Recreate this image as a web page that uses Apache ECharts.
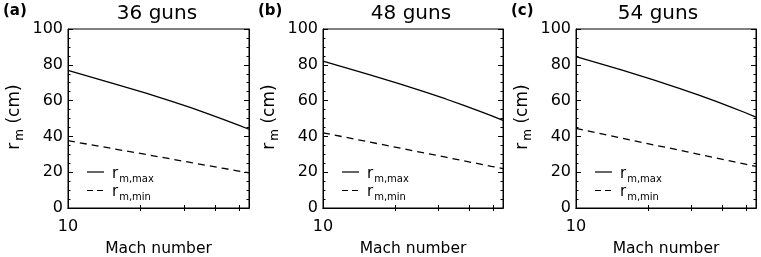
<!DOCTYPE html>
<html><head><meta charset="utf-8">
<script src="https://cdn.jsdelivr.net/npm/echarts@6/dist/echarts.min.js"></script>
<style>html,body{margin:0;padding:0;background:#fff}#c{width:761px;height:257px}</style>
</head><body><div id="c"></div>
<script>
const mach = [10, 15, 20, 25, 30, 35, 40, 45, 50];
const panelLetters = ['(a)', '(b)', '(c)'];
const panelTitles = ['36 guns', '48 guns', '54 guns'];
const rMax36 = [76.9, 69.5, 64.2, 59.7, 55.9, 52.5, 49.4, 46.6, 44.0];
const rMin36 = [37.6, 33.1, 29.9, 27.4, 25.3, 23.6, 22.1, 20.8, 19.6];
const rMax48 = [82.0, 74.6, 69.2, 64.7, 60.9, 57.5, 54.4, 51.6, 49.0];
const rMin48 = [42.0, 37.0, 33.4, 30.6, 28.4, 26.4, 24.8, 23.3, 22.0];
const rMax54 = [84.5, 77.1, 71.6, 67.0, 63.1, 59.6, 56.4, 53.5, 50.8];
const rMin54 = [44.5, 39.1, 35.3, 32.4, 30.0, 27.9, 26.2, 24.6, 23.2];
const yTicks = [0, 20, 40, 60, 80, 100];
const xTickLabels = ['10'];
const legendNames = ['m,max', 'm,min'];

const chart = echarts.init(document.getElementById('c'));
const grids = [
  {left: 68, width: 181, top: 29, height: 179},
  {left: 323, width: 180, top: 29, height: 179},
  {left: 576, width: 180, top: 29, height: 179}
];
const titleX = [157, 411, 658];
const seriesData = [[rMax36, rMin36], [rMax48, rMin48], [rMax54, rMin54]];
const font = '"DejaVu Sans", Verdana, sans-serif';
const opt = {
  animation: false,
  backgroundColor: '#fff',
  grid: grids.map(g => Object.assign({containLabel: false, outerBoundsMode: 'none', show: true, borderColor: '#000', borderWidth: 1}, g)),
  xAxis: [], yAxis: [], series: [], graphic: []
};
grids.forEach((g, i) => {
  ['bottom', 'top'].forEach(pos => {
    opt.xAxis.push({
      type: 'log', gridIndex: i, min: 10, max: 50, logBase: 10, position: pos,
      axisLine: {show: true, lineStyle: {color: '#000', width: 1}},
      axisTick: {show: false},
      minorTick: {show: true, splitNumber: 10, length: 3, lineStyle: {color: '#000'}},
      axisLabel: {show: pos === 'bottom', color: '#000', fontSize: 16, fontFamily: font, margin: 11,
        formatter: v => xTickLabels.indexOf(String(Math.round(v))) >= 0 ? String(Math.round(v)) : ''},
      splitLine: {show: false},
      name: pos === 'bottom' ? 'Mach number' : '', nameLocation: 'middle', nameGap: 33,
      nameTextStyle: {color: '#000', fontSize: 15.5, fontFamily: font}
    });
  });
  ['left', 'right'].forEach(pos => {
    opt.yAxis.push({
      type: 'value', gridIndex: i, min: yTicks[0], max: yTicks[yTicks.length - 1], interval: 20, position: pos,
      axisLine: {show: true, lineStyle: {color: '#000', width: 1}},
      axisTick: {show: true, inside: true, length: 5, lineStyle: {color: '#000'}},
      minorTick: {show: true, splitNumber: 4, length: 2.5, lineStyle: {color: '#000'}},
      axisLabel: {show: pos === 'left', color: '#000', fontSize: 16, fontFamily: font, margin: 5},
      splitLine: {show: false}
    });
  });
  const [mx, mn] = seriesData[i];
  opt.series.push({
    type: 'line', xAxisIndex: i * 2, yAxisIndex: i * 2, showSymbol: false,
    data: mach.map((m, k) => [m, mx[k]]), lineStyle: {color: '#000', width: 1.3}
  });
  opt.series.push({
    type: 'line', xAxisIndex: i * 2, yAxisIndex: i * 2, showSymbol: false,
    data: mach.map((m, k) => [m, mn[k]]), lineStyle: {color: '#000', width: 1.3, type: [7, 5]}
  });
  opt.graphic.push({type: 'text', x: titleX[i], y: 14,
    style: {text: panelTitles[i], align: 'center', verticalAlign: 'middle', font: '20px ' + font, fill: '#000'}});
  const lx = [3, 258, 511][i];
  opt.graphic.push({type: 'text', left: lx, top: 4, style: {text: panelLetters[i], font: 'bold 15px ' + font, fill: '#000'}});
  // y axis name
  opt.graphic.push({type: 'text', x: g.left - 53, y: 117, rotation: Math.PI / 2,
    style: {text: '{a|r}{s|m}{a| (cm)}', align: 'center', verticalAlign: 'middle',
      rich: {a: {font: '17px ' + font, fill: '#000'}, s: {font: '12px ' + font, fill: '#000', padding: [9, 0, 0, 2]}}}});
  // legend
  [0, 1].forEach(j => {
    const ly = 172 + j * 18.5;
    opt.graphic.push({type: 'line', shape: {x1: g.left + 19, y1: ly, x2: g.left + 36, y2: ly},
      style: {stroke: '#000', lineWidth: 1.2, lineDash: j ? [6, 4] : null}});
    opt.graphic.push({type: 'text', x: g.left + 44, y: ly - 8,
      style: {text: '{a|r}{s|' + legendNames[j] + '}', rich: {a: {font: '15px ' + font, fill: '#000'}, s: {font: '10px ' + font, fill: '#000', padding: [10, 0, 0, 1]}}}});
  });
});
chart.setOption(opt);
</script></body></html>
